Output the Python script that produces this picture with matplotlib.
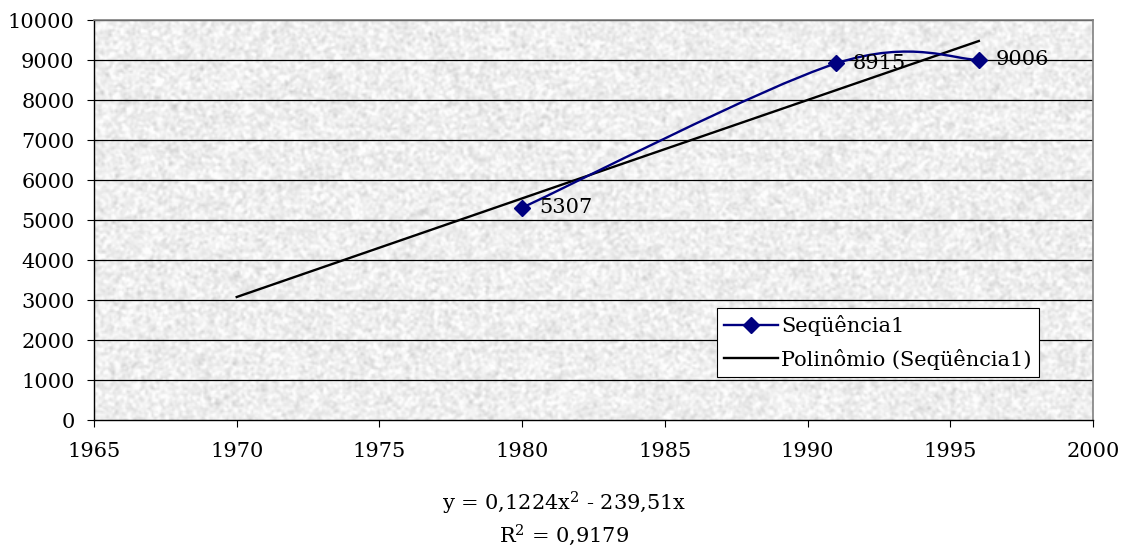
import numpy as np
import matplotlib
matplotlib.use("Agg")
import matplotlib.pyplot as plt
from matplotlib.path import Path
from matplotlib.patches import PathPatch
from matplotlib.lines import Line2D

# dados
anos = [1980, 1991, 1996]
valores = [5307, 8915, 9006]
rotulos = ["5307", "8915", "9006"]

# linha de tendência
anos_tend = [1970, 1983, 1996]
valores_tend = [3075, 6280, 9475]

serie_nome = "Seqüência1"
tend_nome = "Polinômio (Seqüência1)"
equacao = "y = 0,1224x$^2$ - 239,51x"
r2 = "R$^2$ = 0,9179"

plt.rcParams["font.family"] = ["DejaVu Serif"]
plt.rcParams["mathtext.fontset"] = "dejavuserif"
plt.rcParams["font.size"] = 15

fig = plt.figure(figsize=(11.28, 5.52), dpi=100)
ax = fig.add_axes([94 / 1128, 1 - 420 / 552, 999 / 1128, 400 / 552])

# fundo tipo "granito" do Excel
rng = np.random.default_rng(7)
ruido = rng.normal(0, 1, (260, 640))
k = np.array([[1, 2, 1], [2, 4, 2], [1, 2, 1]]) / 16.0
suave = np.zeros_like(ruido)
for i in range(3):
    for j in range(3):
        suave += k[i, j] * np.roll(np.roll(ruido, i - 1, 0), j - 1, 1)
textura = 0.935 + 0.032 * suave / suave.std()
textura = np.clip(textura, 0.8, 0.995)
ax.imshow(textura, cmap="gray", vmin=0, vmax=1, extent=(0, 1, 0, 1),
          transform=ax.transAxes, aspect="auto", zorder=0,
          interpolation="bilinear")

ax.set_xlim(1965, 2000)
ax.set_ylim(0, 10000)
ax.set_xticks(range(1965, 2001, 5))
ax.set_yticks(range(0, 10001, 1000))

for y in range(1000, 10001, 1000):
    ax.axhline(y, color="black", lw=0.9, zorder=1)

# linha de tendência
ax.plot(anos_tend, valores_tend, color="black", lw=1.7, zorder=3)

# curva suavizada (Bezier, como no Excel)
pts = list(zip(anos, valores))
ext = [pts[0]] + pts + [pts[-1]]
verts = [pts[0]]
codes = [Path.MOVETO]
for i in range(1, len(ext) - 2):
    p0, p1 = np.array(ext[i], float), np.array(ext[i + 1], float)
    pa, pb = np.array(ext[i - 1], float), np.array(ext[i + 2], float)
    c1 = p0 + (p1 - pa) / 6.0
    c2 = p1 - (pb - p0) / 6.0
    verts += [tuple(c1), tuple(c2), tuple(p1)]
    codes += [Path.CURVE4] * 3
ax.add_patch(PathPatch(Path(verts, codes), fc="none", ec="#000080",
                       lw=1.7, zorder=4))
ax.plot(anos, valores, ls="none", marker="D", ms=8.5, color="#000080",
        mec="#000080", zorder=5)

for x, y, t in zip(anos, valores, rotulos):
    ax.annotate(t, (x, y), xytext=(12, 0), textcoords="offset points",
                va="center", ha="left", fontsize=15, zorder=6)

for s in ["top", "right"]:
    ax.spines[s].set_color("#808080")
    ax.spines[s].set_linewidth(1.2)
for s in ["left", "bottom"]:
    ax.spines[s].set_color("black")
    ax.spines[s].set_linewidth(1.0)
ax.tick_params(axis="x", length=5, pad=11, direction="out")
ax.tick_params(axis="y", length=5, pad=9, direction="out")

# legenda
h1 = Line2D([], [], color="#000080", lw=1.7, marker="D", ms=8.5)
h2 = Line2D([], [], color="black", lw=1.7)
leg = ax.legend([h1, h2], [serie_nome, tend_nome], loc="lower right",
                bbox_to_anchor=(0.946, 0.1075), borderaxespad=0,
                fancybox=False, framealpha=1, edgecolor="black",
                handlelength=2.6, handletextpad=0.15, labelspacing=0.6,
                borderpad=0.35, fontsize=15)
leg.get_frame().set_linewidth(0.8)
leg.set_zorder(10)

fig.text(564 / 1128, 1 - 503 / 552, equacao, ha="center", va="center",
         fontsize=15)
fig.text(564 / 1128, 1 - 535 / 552, r2, ha="center", va="center",
         fontsize=15)

fig.savefig("out.png", dpi=100)
